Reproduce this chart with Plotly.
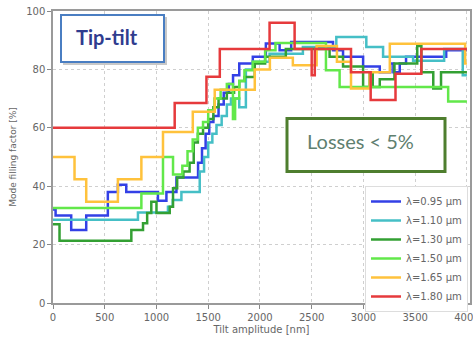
import plotly.graph_objects as go

# ---- data (step curves: x = start of each step, y = level) ----
labels = ["λ=0.95 μm", "λ=1.10 μm", "λ=1.30 μm", "λ=1.50 μm", "λ=1.65 μm", "λ=1.80 μm"]
colors = ["#3340E6", "#45BFC6", "#33A033", "#62E84A", "#FFC23C", "#E63A3C"]

x_095 = [0, 25, 176, 321, 530, 627, 708, 1014, 1096, 1193, 1402, 1440, 1475, 1510, 1550, 1600, 1650,
         1700, 1740, 1800, 1931, 2057, 2190, 2302, 2706, 2803, 2997, 3158, 3260, 3290, 3351, 3412, 3800, 4000]
y_095 = [32, 30, 25, 30, 38, 40.5, 38, 35, 38, 43, 48, 53, 58, 62, 64, 68, 72,
         75, 78, 82, 84.3, 88.9, 86.6, 89.4, 86.6, 84.3, 81, 79, 82, 79, 82, 84.3, 86.6, 86.6]

x_110 = [0, 821, 1111, 1157, 1241, 1418, 1460, 1500, 1540, 1580, 1630, 1680, 1720, 1800, 1864,
         1931, 2093, 2415, 2738, 3028, 3190, 3480, 3780, 3960, 4000]
y_110 = [28.5, 31, 33, 35.3, 38, 45, 50, 55, 58, 61, 64, 68, 70, 67, 80,
         82.6, 85.4, 87.7, 91.1, 87.7, 84.3, 83, 87, 78, 78]

x_130 = [0, 63, 757, 870, 910, 950, 1000, 1128, 1160, 1200, 1260, 1320, 1360, 1400, 1450, 1500, 1550,
         1600, 1680, 1750, 1800, 1850, 1950, 2050, 2250, 2673, 2803, 2997, 3060, 3090, 3158, 3300,
         3520, 3560, 3675, 3750, 4000]
y_130 = [27, 21.3, 25, 27.3, 30.8, 34.7, 30.8, 33, 39.3, 43, 45, 48, 55, 58, 60, 63, 67,
         70, 72, 74, 76, 77.4, 82, 84.3, 87, 84.3, 81, 74, 79, 74, 76.6, 82,
         88, 79, 73.5, 79, 79]

x_150 = [0, 854, 1063, 1160, 1250, 1300, 1350, 1400, 1450, 1500, 1560, 1620, 1680, 1739, 1760,
         1800, 1850, 1931, 2050, 2150, 2638, 2770, 3819, 4000]
y_150 = [32.5, 37.5, 50, 44, 47, 52, 56, 60, 62, 66, 70, 73, 75, 63, 70,
         76, 79.7, 82.6, 86.6, 89, 79.7, 74, 69, 69]

x_165 = [0, 208, 321, 627, 854, 1063, 1351, 1563, 1950, 2096, 2318, 2548, 2744, 2880, 3061, 3255, 3983, 4000]
y_165 = [50, 42.4, 34.7, 42.4, 50, 58.6, 65.5, 73, 80, 84, 81.4, 88, 82.6, 73.5, 79, 88.8, 82, 82]

x_180 = [0, 1176, 1483, 1612, 2093, 2335, 2500, 2530, 2880, 3070, 3310, 3560, 4000]
y_180 = [60, 68.5, 77.5, 87, 96, 87, 78, 87, 79, 69.5, 78.5, 87, 87]

series = [(x_095, y_095), (x_110, y_110), (x_130, y_130), (x_150, y_150), (x_165, y_165), (x_180, y_180)]

x_ticks = [0, 500, 1000, 1500, 2000, 2500, 3000, 3500, 4000]
y_ticks = [0, 20, 40, 60, 80, 100]

fig = go.Figure()
for (xs, ys), lab, col in zip(series, labels, colors):
    fig.add_trace(go.Scatter(x=xs, y=ys, mode="lines", line=dict(color=col, width=2.5, shape="hv"),
                             name=lab))

L, R, T, B = 53, 3, 11, 36
W, H = 473, 339
PW, PH = W - L - R, H - T - B


def px(x):
    return (x - L) / PW


def py(y):
    return (H - B - y) / PH


axis_common = dict(showline=True, linecolor="#9a9a9a", linewidth=1.5, mirror=True,
                   ticks="outside", ticklen=4, tickcolor="#888", showgrid=True,
                   gridcolor="#cfcfcf", griddash="dot", gridwidth=1, zeroline=False,
                   automargin=False, ticklabeloverflow="allow",
                   tickfont=dict(family="DejaVu Sans", size=10, color="#666"))

fig.update_layout(
    width=W, height=H, template="none",
    margin=dict(l=L, r=R, t=T, b=B, pad=0),
    paper_bgcolor="white", plot_bgcolor="white",
    xaxis=dict(range=[0, 4030], tickvals=x_ticks,
               title=dict(text="Tilt amplitude [nm]", font=dict(family="DejaVu Sans", size=10, color="#666"), standoff=4),
               **axis_common),
    yaxis=dict(range=[0, 100], tickvals=y_ticks,
               title=dict(text="Mode filling factor [%]", font=dict(family="DejaVu Sans", size=9, color="#666"), standoff=8),
               **axis_common),
    legend=dict(x=px(365), y=py(186), xanchor="left", yanchor="top", bgcolor="white",
                bordercolor="#dddddd", borderwidth=1, font=dict(family="DejaVu Sans", size=10, color="#666"),
                itemwidth=30, tracegroupgap=0),
    showlegend=True,
)

# Tip-tilt box (with soft shadow)
fig.add_shape(type="rect", xref="paper", yref="paper", x0=px(63), x1=px(167), y0=py(65), y1=py(17),
              fillcolor="#c8c8c8", line=dict(width=0), layer="above")
fig.add_shape(type="rect", xref="paper", yref="paper", x0=px(61), x1=px(164), y0=py(62), y1=py(15),
              fillcolor="white", line=dict(color="#4A7EC2", width=2), layer="above")
fig.add_annotation(xref="paper", yref="paper", x=px(107), y=py(37), text="<b>Tip-tilt</b>", showarrow=False,
                   font=dict(family="Lato", size=20, color="#2F3C8F"), xanchor="center", yanchor="middle")

# Losses box
fig.add_shape(type="rect", xref="paper", yref="paper", x0=px(287), x1=px(445), y0=py(171.5), y1=py(118.5),
              fillcolor="white", line=dict(color="#4E7E2E", width=3), layer="above")
fig.add_annotation(xref="paper", yref="paper", x=px(305), y=py(141), text="Losses &lt; 5%", showarrow=False,
                   font=dict(family="Lato", size=20, color="#5F8070"), xanchor="left", yanchor="middle")

fig.write_html("out.html")
